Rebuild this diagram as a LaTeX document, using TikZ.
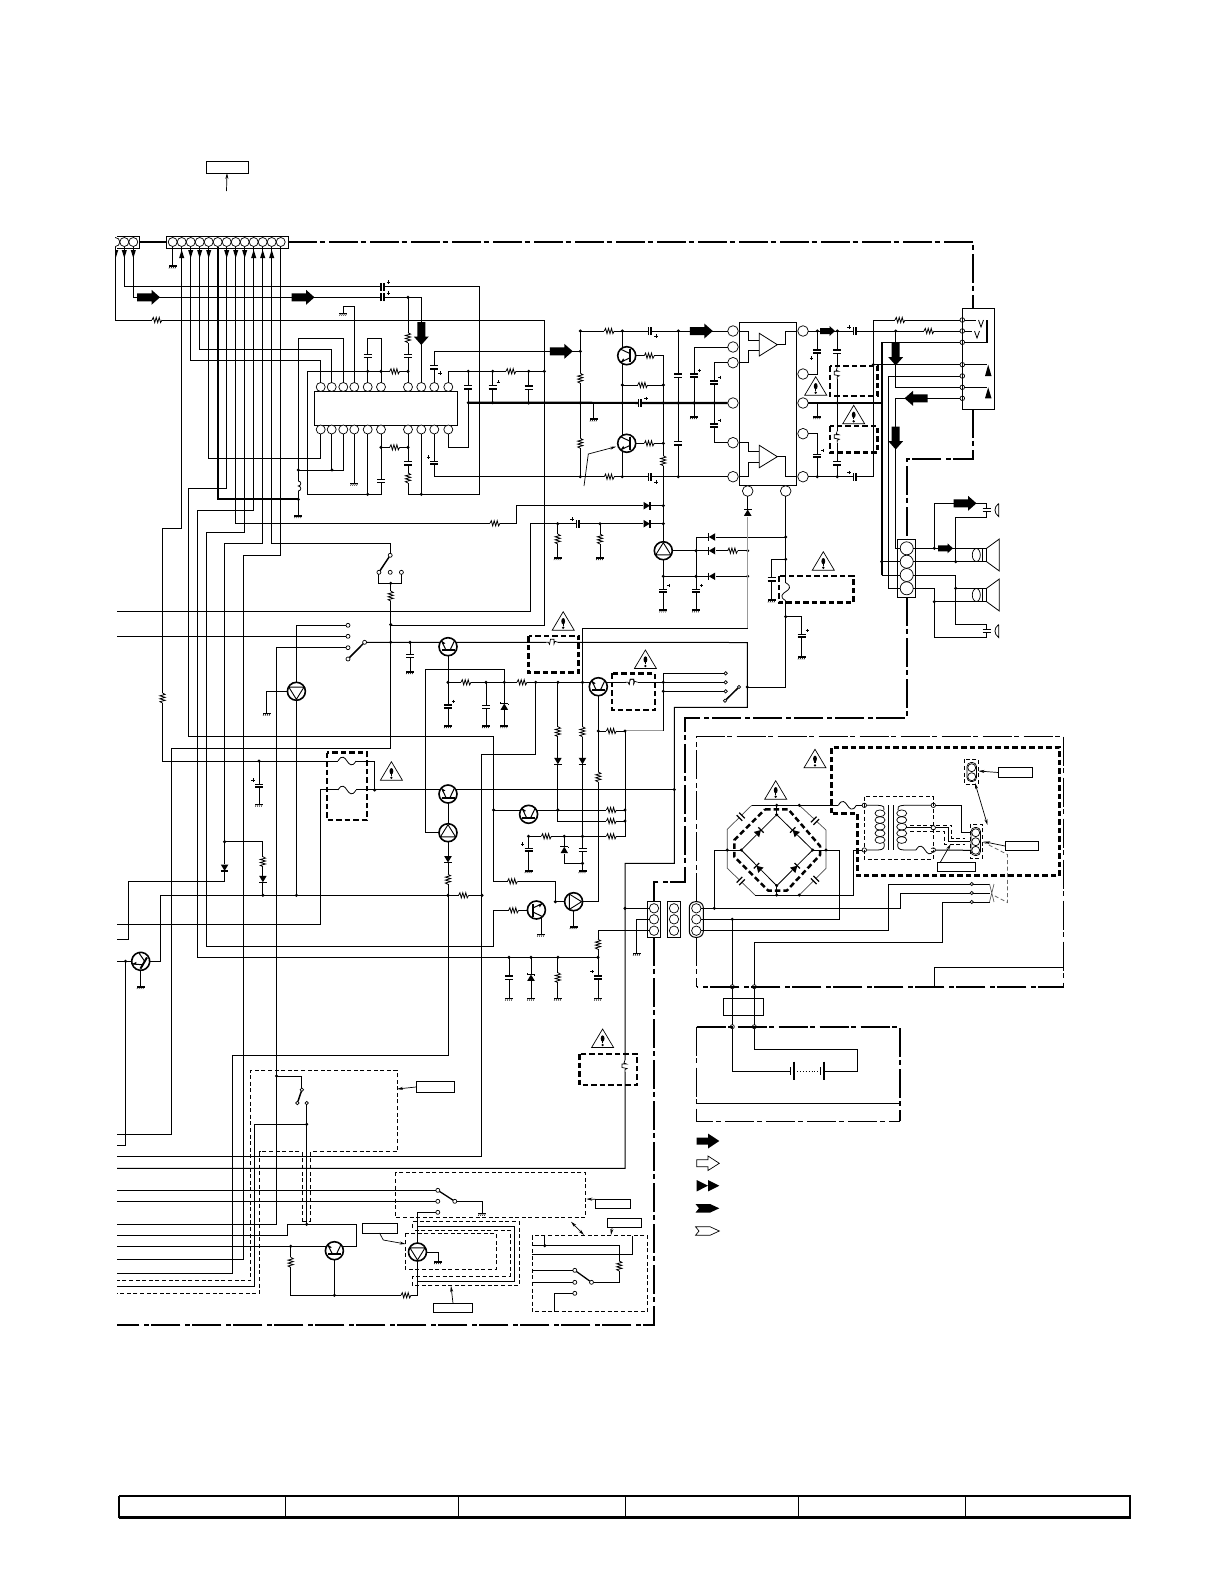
\documentclass[tikz,border=0pt]{standalone}
\usetikzlibrary{arrows.meta}
\tikzset{
  pinn/.style={circle,draw,fill=white,inner sep=0pt,minimum size=#1 pt,line width=.7pt,outer sep=0pt},
  lblbox/.style 2 args={draw,fill=white,inner sep=0pt,minimum width=#1 pt,minimum height=#2 pt,line width=.8pt,outer sep=0pt},
  ddash/.style={dash pattern=on 29pt off 2.5pt on 5pt off 4.5pt,line width=1.6pt},
  ddthin/.style={dash pattern=on 29pt off 2.5pt on 5pt off 4.5pt,line width=.9pt},
  hdash/.style={dash pattern=on 5.5pt off 3pt,line width=2.5pt},
  tdash/.style={dash pattern=on 4pt off 2.6pt,line width=.8pt},
  fatw/.style={line width=2.2pt},
  grayw/.style={line width=1.3pt,black!40},
  thinarrow/.style={line width=.7pt,-{Stealth[length=6pt,width=3pt]}},
  resh/.pic={\fill[white] (-5,-1) rectangle (5,1);
    \draw[line width=.8pt] (-5,0)--(-3.7,-2.6)--(-2.3,2.6)--(-.8,-2.6)--(.7,2.6)--(2.2,-2.6)--(3.6,2.6)--(5,0);},
  capv/.pic={\fill[white] (-4,-2) rectangle (4,2);
    \draw[line width=1.3pt] (-4,-1.8)--(4,-1.8) (-4,1.8)--(4,1.8);},
  capn/.pic={\fill[white] (-4,-2) rectangle (4,2);
    \draw[line width=1.3pt] (-4,-1.8)--(4,-1.8) (-4,1.8)--(4,1.8) (-4,.9)--(4,.9);},
  capp/.pic={\fill[white] (-4,-2) rectangle (4,2);
    \draw[line width=1.3pt] (-4,-1.8)--(4,-1.8) (-4,1.8)--(4,1.8) (-4,.9)--(4,.9);
    \draw[line width=.5pt] (4,-5.5)--(7,-5.5) (5.5,-7)--(5.5,-4);},
  diod/.pic={\fill[white] (-4,-3.5) rectangle (4,3.5);
    \fill (-3.8,-3.2)--(3.8,-3.2)--(0,3.2)--cycle;
    \draw[line width=1.2pt] (-3.8,3.2)--(3.8,3.2);},
  zen/.pic={\fill[white] (-4,-3.5) rectangle (4,3.5);
    \fill (-3.8,3.2)--(3.8,3.2)--(0,-3.2)--cycle;
    \draw[line width=1.2pt] (-3.8,-3.2)--(3.8,-3.2) (-3.8,-3.2)--(-3.8,-4.5) (3.8,-3.2)--(3.8,-1.8);},
  gndp/.pic={\fill (-4,-.8) rectangle (4,.8);
    \draw[line width=.5pt] (-3,.8)--(-3.8,2.4) (-1,.8)--(-1.8,2.4) (1,.8)--(.2,2.4) (3,.8)--(2.2,2.4);},
  qbar/.pic={\draw[fill=white,line width=1.6pt] (0,0) circle (9);
    \draw[line width=2pt] (-6.5,3.5)--(6.5,3.5);
    \draw[line width=1pt] (-2,3.5)--(-6.5,-6) (2,3.5)--(6.5,-6);
    \fill (-6.5,-6)--(-2.6,-3.4)--(-5.3,-2.3)--cycle;},
  qtri/.pic={\draw[fill=white,line width=1.6pt] (0,0) circle (9);
    \draw[line width=.9pt] (-7.6,4.2)--(7.6,4.2)--(0,-8)--cycle;},
  warnp/.pic={\draw[fill=white,line width=.7pt] (0,-10)--(-11,8.5)--(11,8.5)--cycle;
    \fill (0,-.5) ellipse (1.9 and 3.2);
    \draw[line width=1.2pt] (0,0)--(0,4);
    \fill (0,6) circle (1.3);},
  barr/.pic={\fill (-11.5,-4)--(3,-4)--(3,-7.5)--(11.5,0)--(3,7.5)--(3,4)--(-11.5,4)--cycle;},
  barrs/.pic={\fill (-7.5,-3)--(2,-3)--(2,-5)--(7.5,0)--(2,5)--(2,3)--(-7.5,3)--cycle;},
  tridn/.pic={\fill (-2.6,-4)--(2.6,-4)--(0,4)--cycle;},
  fuseh/.pic={\fill[white] (-9,-1) rectangle (9,1);
    \draw[line width=.8pt] (-9,0) .. controls (-5,-7) and (-2,-3) .. (0,0) .. controls (2,3) and (5,7) .. (9,0);},
  fuser/.pic={\fill[white] (-6,-1) rectangle (6,1);
    \draw[line width=.7pt] (-6,0)--(-3.5,0)--(-2.5,2)--(-1.5,-3)--(2,-3)--(2,1.5)--(3,-1)--(6,0);},
  twet/.pic={\fill[white] (-4,-2) rectangle (4,2);
    \draw[line width=1.5pt] (-4,-1.5)--(4,-1.5) (-4,1.5)--(4,1.5);
    \draw[line width=.8pt] (12,-6.5) .. controls (7,-3) and (7,3) .. (12,6.5) -- (12,-6.5);},
  spkr/.pic={\draw[fill=white,line width=.8pt] (0,-6.7) rectangle (4.3,6.7);
    \draw[line width=.8pt] (4.3,-6.7)--(17,-16)--(17,16)--(4.3,6.7);
    \draw[line width=.7pt] (-6,0) ellipse (4 and 6.5);}
}
\newcommand\jdots[1]{\foreach \a/\b in {#1} {\fill (\a,\b) circle (1.7);}}
\newcommand\pp[2]{\foreach \a/\b in {#2} {\pic at (\a,\b) {#1};}}
\newcommand\plusat[1]{\foreach \a/\b in {#1} {\draw[line width=.5pt] (\a-1.6,\b)--(\a+1.6,\b) (\a,\b-1.6)--(\a,\b+1.6);}}
\begin{document}
\begin{tikzpicture}[x=1pt,y=-1pt,line width=1pt]
\useasboundingbox (0,0) rectangle (1225,1585);
\fill[white] (0,0) rectangle (1225,1585);
% ---- pins --------------------------------------------------
\draw (117,236)--(139,236)--(139,248)--(117,248);
\draw (166,236) rectangle (288,248);
\node[pinn=9] (d0) at (115.3,242) {};
\node[pinn=9] (d1) at (124.3,242) {};
\node[pinn=9] (d2) at (133.3,242) {};
\foreach \i in {0,...,12} {\node[pinn=9] (c\i) at ({172.7+9*\i},242) {};}
\draw (314.3,391.3) rectangle (457.7,425.7);
\foreach \i/\x in {1/320.7,2/331.7,3/343.3,4/354.3,5/367.7,6/381,7/408,8/421.3,9/434.3,10/448.3} {
  \node[pinn=9] (t\i) at (\x,387) {};
  \node[pinn=9] (b\i) at (\x,429.5) {};}
\draw (739.3,322.3) rectangle (796.7,485.7);
\foreach \i/\y in {1/331,2/347,3/362.7,4/403,5/442.7,6/476.7} {\node[pinn=10.6] (pa\i) at (733,\y) {};}
\foreach \i/\y in {1/331,2/374,3/403,4/433.7,5/476.7} {\node[pinn=10.6] (pb\i) at (803,\y) {};}
\node[pinn=10.6] (pc1) at (747.7,491) {};
\node[pinn=10.6] (pc2) at (785.7,491) {};
\foreach \i/\y in {1/320,2/331,3/342.3,4/364.7,5/376,6/387.3,7/398.3} {\node[pinn=4.6] (j\i) at (962.3,\y) {};}
\draw (897.3,539.3) rectangle (915.7,597.3);
\foreach \i/\y in {1/548.3,2/561.7,3/575,4/588.3} {\node[pinn=13] (cc\i) at (906.7,\y) {};}
\draw (647.3,901.7) rectangle (660.7,937.3);
\draw (667.3,901.7) rectangle (680.7,937.3);
\draw[rounded corners=6pt] (689.3,901.7) rectangle (703.3,937.3);
\foreach \i/\y in {1/908.3,2/919.3,3/930.7} {
  \node[pinn=9.4] (g\i) at (654,\y) {};
  \node[pinn=9.4] (h\i) at (674,\y) {};
  \node[pinn=9.4] (i\i) at (696.3,\y) {};}
\foreach \i/\y in {1/884,2/893,3/902} {\node[pinn=3.2] (k\i) at (971.7,\y) {};}
\node[pinn=4.4] (tp1) at (864.3,805.3) {};
\node[pinn=4.4] (tp2) at (864.3,850) {};
\node[pinn=4.4] (ts1) at (933.3,805.3) {};
\node[pinn=4.4] (ts2) at (933.3,827.7) {};
\node[pinn=4.4] (ts3) at (933.3,850) {};
\node[pinn=4] (m1) at (732.3,986.7) {};
\node[pinn=4] (m2) at (754.3,986.7) {};
\node[pinn=4] (m3) at (732.3,1026.7) {};
\node[pinn=4] (m4) at (754.3,1026.7) {};
% switch pins
\node[pinn=4] (sa) at (390.2,555.3) {};
\node[pinn=4] (sb1) at (378.9,572.3) {};
\node[pinn=4] (sb2) at (390.2,572.3) {};
\node[pinn=4] (sb3) at (401.4,572.3) {};
\node[pinn=4] (se1) at (348,625.3) {};
\node[pinn=4] (se2) at (348,636.3) {};
\node[pinn=4] (se3) at (348,647.7) {};
\node[pinn=4] (se4) at (348,659) {};
\node[pinn=4] (sf) at (364.6,642.3) {};
\node[pinn=3.4] (sg1) at (725.7,673.3) {};
\node[pinn=3.4] (sg2) at (725.7,682.3) {};
\node[pinn=3.4] (sg3) at (725.7,691.3) {};
\node[pinn=3.4] (sg4) at (725,700.7) {};
\node[pinn=3.4] (sh) at (739,687) {};
\node[pinn=3.4] (su1) at (301.9,1089.7) {};
\node[pinn=3.4] (su2) at (297.4,1103) {};
\node[pinn=3.4] (su3) at (306.7,1103) {};
\node[pinn=4] (sv1) at (437.8,1190.3) {};
\node[pinn=4] (sv2) at (437.8,1201.3) {};
\node[pinn=4] (sv3) at (437.8,1212.3) {};
\node[pinn=4] (sw) at (454.8,1201.3) {};
\node[pinn=4] (sx1) at (574.8,1270.3) {};
\node[pinn=4] (sx2) at (574.8,1282.3) {};
\node[pinn=4] (sx3) at (574.8,1293.3) {};
\node[pinn=4] (sy) at (591.5,1282.3) {};
% ---- label boxes -------------------------------------------
\node[lblbox={42}{12}] (lt) at (227,167) {};
\node[lblbox={38}{11.5}] (la) at (435,1087) {};
\node[lblbox={35}{9.5}] (lb) at (612.8,1204) {};
\node[lblbox={34.5}{9.5}] (lc) at (624.3,1223) {};
\node[lblbox={35}{10}] (ld) at (379.5,1228) {};
\node[lblbox={38.5}{9.5}] (le) at (453,1308) {};
\node[lblbox={34.5}{10.5}] (lf) at (1015.5,772.5) {};
\node[lblbox={33.3}{9.5}] (lg) at (1021.7,846) {};
\node[lblbox={38.4}{9.5}] (lh) at (956.5,867) {};
\coordinate (ltf) at (226.5,191);
\draw[thinarrow] (ltf)--(lt.south);
\draw[thinarrow] (la.west)--(397,1089);
\draw[thinarrow] (lb.north west)--(586.3,1199);
\draw[thinarrow] (lc.south west)++(5,0)--(611,1235);
\draw[thinarrow] (ld.south)--(383.3,1240)--(405.5,1244);
\draw[thinarrow] (le.north)--(451,1286);
\draw[thinarrow] (lf.west)--(978.5,771);
\draw[thinarrow] (lg.west)--(984,841.7);
\draw[thinarrow] (lh.north west)++(3,0)--(950.7,844);
\draw[line width=.7pt,{Stealth[length=6pt,width=3pt]}-{Stealth[length=6pt,width=3pt]}] (975,783)--(987.5,825);
\draw[line width=.7pt,{Stealth[length=6pt,width=3pt]}-{Stealth[length=6pt,width=3pt]}] (571,1221.7)--(584,1235);
% ---- dash-dot frames ----------------------------------------
\draw[ddash] (139,242)--(166,242);
\draw[ddash] (288,242)--(973,242)--(973,308);
\draw[ddash] (973,409)--(973,459)--(907,459)--(907,539.3);
\draw[ddash] (907,597.3)--(907,718)--(685,718)--(685,881.7)--(654,881.7)--(654,901.7);
\draw[ddash] (654,937.3)--(654,1324.7)--(117,1324.7);
\draw[ddthin] (696.7,901.7)--(696.7,736.7)--(1063.3,736.7);
\draw[ddthin] (696.7,937.3)--(696.7,986.7);
\draw[ddash] (1063.3,736.7)--(1063.3,986.7)--(696.7,986.7);
\draw (934.3,986.7)--(934.3,967.3)--(1063.3,967.3);
\draw[ddash] (696.7,1026.7)--(900,1026.7)--(900,1121);
\draw[ddthin] (696.7,1026.7)--(696.7,1121)--(900,1121);
\draw (696.7,1103.3)--(900,1103.3);
% ---- wiring from top connector -------------------------------
\draw (d1.south)|-(479.7,286.5)--(479.7,494.3)--(408,494.3)--(b7.south);
\draw (d2.south)|-(421.3,297.3)--(t8.north);
\draw (115.7,247)--(115.7,320)--(544.3,320)--(544.3,625)--(390.7,625);
\draw (c0.south)--(172.7,266);
\draw (c1.south)--(181.7,528)--(162.5,528)--(162.5,761)--(374.6,761)--(374.6,790);
\draw (c2.south)|-(320.7,360.3)--(t1.north);
\draw (c3.south)|-(331.7,349.7)--(t2.north);
\draw (c4.south)|-(320.7,458.3)--(b1.south);
\draw[line width=1.8pt] (c5.south)|-(298.3,499.3);
\draw (298.3,338.3)--(298.3,515.7);
\draw (298.3,338.3)-|(t3.north);
\draw (298.3,470)-|(b3.south);
\draw (331.7,470)--(b2.south);
\draw (c6.south)|-(188.6,488.3)--(188.6,736.3)--(493.6,736.3)--(493.6,881.3)--(555.4,881.3)--(555.4,901.7);
\draw (c7.south)|-(516.7,523.3)--(516.7,505.7)--(663.3,505.7);
\draw (c8.south)|-(206.8,532.3)--(206.8,946.3)--(493.6,946.3)--(493.6,910.3)--(530,910.3);
\draw (c9.south)|-(197.5,510.3)--(197.5,957.3)--(598,957.3);
\draw (c10.south)|-(224.6,543.3)--(224.6,881.3)--(128.2,881.3)--(128.2,939)--(117,939);
\draw (c11.south)|-(390.2,543.3)--(sa.north);
\draw (c12.south)--(280.7,555.3)--(243.6,555.3)--(243.6,1259)--(117,1259);
% ---- IC1 surround ---------------------------------------------
\draw (b4.south)--(354.3,483.3);
\draw (t4.north)--(354.3,306)--(343.3,306)--(343.3,313.3);
\draw (b5.south)--(367.7,494.3);
\draw (t5.north)--(367.7,371.3);
\draw (307.3,371.3)--(307.3,494.3)--(381,494.3)--(b6.south);
\draw (307.3,371.3)--(408,371.3);
\draw (367.7,371.3)--(367.7,338.3)--(381,338.3)--(t6.north);
\draw (t7.north)--(408,297.3);
\draw (381,447.3)--(408,447.3);
\draw (b8.south)--(421.3,494.3);
\draw (t9.north)|-(580.3,351.3);
\draw (b9.south)|-(pa6.west);
\draw (t10.north)|-(544.3,371.3);
\draw (b10.south)|-(468.3,447)--(468.3,371.3);
\draw (492.7,371.3)--(492.7,402.7);
\draw (528.7,371.3)--(528.7,403);
\draw[fatw] (468.3,402.7)--(pa4.west);
\draw[fatw] (pb3.east)--(882.7,403);
\pp{resh}{157/320,511/371.3,394.7/371.3,394.7/447.3,495/523.3}
\pp{capv}{468.3/387.3,367.7/356,408/356,408/463.3,381/481,528.7/387.7}
\pp{capp}{492.7/387.3}
\pp{capn}{434.3/367.3,434.3/463}
\plusat{440/373,428.5/457,388.5/282,388.5/293}
\pic[rotate=90] at (382.7,286.5) {capn};
\pic[rotate=90] at (382.7,297.3) {capn};
\pic[rotate=90] at (408,337.7) {resh};
\pic[rotate=90] at (408,478) {resh};
\fill[white] (296,481) rectangle (300.6,491);
\draw[line width=.8pt] (298.3,481) arc (-90:90:2.5) arc (-90:90:2.5);
\jdots{408/297.3,298.3/470,332/470,298.3/499.3,367.7/371.3,381/371.3,408/371.3,381/447.3,408/447.3,421.3/494.3,367.7/494.3,468.3/371.3,492.7/371.3,468.3/402.7,492.7/402.7,528.7/371.3,544.3/371.3,528.7/403}
\pp{gndp}{172.7/266,298.3/515.7,354.3/483.3,343.3/313.3}
% ---- preamp left of IC2 ----------------------------------------
\draw (580.3,331)--(pa1.west);
\draw (580.3,331)--(580.3,476.7);
\draw (622.3,331)--(622.3,476.7);
\draw (622.3,385)--(663.3,385);
\draw (632,355.7)--(663.3,355.7)--(663.3,545);
\draw (632,443.3)--(663.3,443.3);
\draw (593.7,403)--(593.7,419);
\draw (678.3,331)--(678.3,476.7);
\draw (pa2.west)-|(694,416.7);
\draw (pa3.west)-|(714.3,442.7)--(pa5.west);
\draw (530.5,611.3)--(117,611.3);
\draw (530.5,611.3)--(530.5,523.7)--(663.3,523.7);
\draw (557.7,523.7)--(557.7,557.7);
\draw (600,523.7)--(600,557.7);
\draw (672,550.7)--(747.7,550.7);
\draw (696,537)--(696,610);
\draw (696,537)--(785.7,537);
\draw (663.3,556)--(663.3,610);
\draw (663.3,576.3)--(747.7,576.3);
\pp{resh}{609.3/331,609.3/476.7,642.7/385,649.3/355.7,649.3/443.3,732.7/550.7}
\pic[rotate=90] at (580.3,378.3) {resh};
\pic[rotate=90] at (580.3,443.3) {resh};
\pic[rotate=90] at (663.3,460.7) {resh};
\pic[rotate=90] at (557.7,539) {resh};
\pic[rotate=90] at (600,539) {resh};
\pp{capv}{678.3/375.7,678.3/443.3}
\pp{capp}{694/375.7,714.3/382.7,714.3/425.7,663.3/591,696/591}
\foreach \x/\y in {650/331,650/476.7,578/523.7,640/403} {\pic[rotate=90] at (\x,\y) {capn};}
\plusat{656/336,656/482,572/519,646/398.5}
\foreach \y in {505.7,523.7} {\pic[rotate=90] at (646.7,\y) {diod};}
\foreach \y in {537,550.7,576.3} {\pic[rotate=-90] at (712,\y) {diod};}
\pic[rotate=180] at (747.7,512.7) {diod};
\jdots{580.3/331,622.3/331,678.3/331,580.3/351.3,580.3/476.7,622.3/476.7,678.3/476.7,580.3/403,622.3/403,663.3/403,678.3/403,694/403,714.3/403,622.3/385,663.3/385,663.3/443.3,663.3/505.7,663.3/523.7,557.7/523.7,600/523.7,663.3/576.3,696/550.7,696/576.3,747.7/550.7,747.7/576.3,785.7/537}
\pp{gndp}{593.7/419,694/416.7,557.7/557.7,600/557.7,663.3/610,696/610}
\draw[thinarrow] (584,486)--(588.3,454)--(616,446.7);
% ---- IC2 internals ---------------------------------------------
\draw[line width=.8pt] (759.3,333.3)--(777.3,344.7)--(759.3,356)--cycle;
\draw[line width=.8pt] (759.3,445.3)--(777.3,456.7)--(759.3,467.7)--cycle;
\draw (739.3,331)--(748.3,331)--(748.3,340)--(759.3,340);
\draw (739.3,362.7)--(748.3,362.7)--(748.3,350.7)--(759.3,350.7);
\draw (777.3,344.7)--(785.7,344.7)--(785.7,331)--(796.7,331);
\draw (739.3,442.7)--(748.3,442.7)--(748.3,451.7)--(759.3,451.7);
\draw (739.3,476.7)--(748.3,476.7)--(748.3,462.3)--(759.3,462.3);
\draw (777.3,456.7)--(785.7,456.7)--(785.7,476.7)--(796.7,476.7);
% ---- output side ------------------------------------------------
\draw (pb1.east)--(j2.west);
\draw (pb2.east)-|(817.3,331);
\draw (837.3,331)--(837.3,476.7);
\draw (817.3,403)--(817.3,416.7);
\draw (pb4.east)-|(817.3,476.7);
\draw (pb5.east)--(873.3,476.7)--(873.3,320)--(j1.west);
\draw (962.3,320)--(962.3,398.3);
\draw[fatw] (881.7,342.3)--(881.7,575);
\draw (j3.west)--(881.7,342.3);
\draw (881.7,575)--(cc3.west);
\draw (j4.west)--(873.3,364.7);
\draw (j5.west)--(888.3,376)--(888.3,588.3)--(cc4.west);
\draw (j6.west)--(895.7,387.3)--(895.7,331);
\draw (j7.west)--(895.7,398.3)--(895.7,548.3)--(cc1.west);
\draw (881.7,561.7)--(cc2.west);
\pp{capv}{837.3/351.7,837.3/463.3}
\pp{capn}{817.3/351.7}
\pp{capp}{817.3/456}
\plusat{811.5/358,849/327,849/472.5}
\foreach \x/\y in {855/331,855/476.7} {\pic[rotate=90] at (\x,\y) {capn};}
\pp{resh}{929/331,900/320}
\pic[rotate=90] at (837.3,373.3) {fuser};
\pic[rotate=90] at (837.3,436.7) {fuser};
\jdots{817.3/331,837.3/331,895.7/331,817.3/476.7,837.3/476.7,837.3/403,873.3/364.7,881.7/561.7}
\pp{gndp}{817.3/416.7}
\draw[hdash] (830,366) rectangle (877.3,396);
\draw[hdash] (830,426) rectangle (877.3,452.7);
% jack
\draw (962.3,308) rectangle (994,409);
\draw (j3.east)--(987,342.3);
\draw[line width=2pt] (987,320)--(987,343);
\draw (j1.east)--(976,320);
\draw (j2.east)--(972,331);
\draw[line width=.8pt] (978.5,320)--(981,327)--(983.5,320) (974.5,331)--(977,338)--(979.5,331);
\draw (j4.east)--(987,364.7);
\draw (j6.east)--(987,387.3);
\fill (985,376)--(991.5,376)--(988.2,364.7)--cycle;
\fill (985,398.3)--(991.5,398.3)--(988.2,387.3)--cycle;
% speakers
\draw (cc1.east)--(982,548.3);
\draw (934.3,548.3)--(934.3,503.3)--(986.7,503.3)--(986.7,510);
\draw (cc2.east)--(982,561.7);
\draw (955.7,561.7)--(955.7,517.3)--(986.7,517.3)--(986.7,510);
\draw (cc3.east)--(955.7,575)--(955.7,624.3)--(986.7,624.3)--(986.7,631);
\draw (955.7,588.3)--(982,588.3);
\draw (cc4.east)--(934.3,588.3)--(934.3,637.3)--(986.7,637.3)--(986.7,631);
\draw (934.3,601.7)--(982,601.7);
\pic at (982.3,555) {spkr};
\pic at (982.3,595) {spkr};
\pic at (986.7,510) {twet};
\pic at (986.7,631) {twet};
\jdots{934.3/548.3,955.7/561.7,955.7/588.3,934.3/601.7}
% rails around fuse
\draw (pc2.south)--(785.7,687)--(747.3,687);
\draw (785.7,559.3)--(771.7,559.3)--(771.7,600);
\draw (785.7,616.7)--(801.7,616.7)--(801.7,657);
\pp{capv}{771.7/579.3}
\pic at (801.7,636) {capp};
\pp{gndp}{771.7/600,801.7/657}
\pic[rotate=90] at (785.7,591.7) {fuseh};
\jdots{785.7/559.3,785.7/616.7,747.3/687}
\draw[hdash] (779,576) rectangle (853.3,602.7);
% big arrows
\pp{barr}{148.5/297.3,303/297.3,561.3/351.3,701.3/331}
\pic[rotate=-90] at (421.3,333.5) {barr};
\pic[rotate=-90] at (895.7,354) {barr};
\pic[rotate=180] at (916,398.3) {barr};
\pic[rotate=-90] at (895.7,438) {barr};
\pic at (965,503.3) {barr};
\pp{barrs}{827.5/331,945.5/548.3}
% small triangles at connector
\pp{tridn}{124.3/254,133.3/254,115.7/254,190.7/254,199.7/254,208.7/254,226.7/254,235.7/254,244.7/254}
\foreach \x in {181.7,253.7,262.7,271.7} {\pic[rotate=180] at (\x,254) {tridn};}
% ---- middle section ----------------------------------------------
\draw[line width=1.5pt] (sa)--(sb1);
\draw (sb1.south)--(378.9,583.3)--(401.4,583.3)--(sb3.south);
\draw (390.7,583.3)--(390.7,748.7)--(171.7,748.7)--(171.7,1134.3)--(117,1134.3);
\pic[rotate=90] at (390.7,596) {resh};
\draw (117,636.3)--(se2.west);
\draw (se1.west)--(296.4,625.3)--(296.4,895.3);
\draw (se3.west)--(276.5,647.7)--(276.5,1224.3)--(117,1224.3);
\draw[line width=1.5pt] (sf)--(se4);
\draw (sf.east)--(747.3,642.5)--(747.3,707.3)--(674.3,707.3)--(674.3,863.3)--(625,863.3)--(625,1168.3)--(117,1168.3);
\draw (287,691.3)--(266.8,691.3)--(266.8,713.3);
\draw (410,642.3)--(410,671.7);
\draw (448,646)--(448,725.7);
\draw (448,682.3)--(598,682.3);
\draw (486,682.3)--(486,725.7);
\draw (504.3,669.3)--(504.3,725.7);
\draw (504.3,669.3)--(425.7,669.3)--(425.7,832.7)--(439,832.7);
\draw (535.7,682.3)--(535.7,754.3)--(481.8,754.3)--(481.8,1156.3)--(117,1156.3);
\draw (557.9,682.3)--(557.9,821)--(625,821);
\draw (582.5,628.3)--(582.5,863.3);
\draw (582.5,628.3)--(747.7,628.3);
\draw[grayw] (747.7,628.3)--(747.7,517);
\draw (pc1.south)--(747.7,509);
\draw (598.3,695)--(598.3,901.7)--(582,901.7);
\draw (598.3,731)--(625,731);
\draw[grayw] (625,730.7)--(663.3,730.7);
\draw (625,731)--(625,836.3)--(528.6,836.3);
\draw (493.6,810)--(625,810);
\draw (528.6,836.3)--(528.6,870.7);
\draw (564.3,836.3)--(564.3,863.3)--(582.5,863.3);
\draw (582.5,863.3)--(582.5,870.7);
\draw (448,803)--(448,1055.3)--(232.6,1055.3)--(232.6,1273.3)--(117,1273.3);
\draw (320.7,924.3)--(117,924.3);
\draw (320.7,924.3)--(320.7,789.3)--(674.3,789.3);
\draw (259,761)--(259,804.3);
\draw (224.6,841.7)--(262.9,841.7)--(262.9,895.3);
\draw (160.7,895.3)--(482,895.3);
\draw (160.7,895.3)--(160.7,961.3)--(149,961.3);
\draw (117,961.3)--(132,961.3);
\draw (125.6,961.3)--(125.6,1145.3)--(117,1145.3);
\draw (140.7,970)--(140.7,986.7);
\draw (555.4,901.7)--(565,901.7);
\draw (541,917)--(541,934.3);
\draw (573.6,910)--(573.6,926.7);
\draw (g1.west)--(625,908.3);
\draw (g2.west)--(636.8,919.3)--(636.8,953.3);
\draw (g3.west)--(598,930.7)--(598,998.3);
\draw (509,957.3)--(509,998.3);
\draw (531,957.3)--(531,998.3);
\draw (557.9,957.3)--(557.9,998.3);
\pic[rotate=90] at (598,944.3) {resh};
\pic[rotate=90] at (557.9,977.7) {resh};
\pp{capv}{410/656,486/707,509/977.7,582.5/850}
\pp{capp}{448/706.7}
\pp{capn}{259/786,528.6/850,598/977.7}
\plusat{253/780,522.6/844,592/971.7}
\pp{zen}{504.3/706.7,564.3/850,531/977.7}
\pp{diod}{224.6/867.7,262.9/879,448/859.3,557.9/761,582.5/761}
\foreach \x/\y in {466/682.3,522/682.3,611.4/731,611.4/810,611.4/821,611.4/836.3,546.4/836.3,463.6/895.3,512.5/881.3,513.6/910.3} {\pic at (\x,\y) {resh};}
\foreach \x/\y in {162.5/698,557.9/731.7,582.5/731.7,598.3/777,262.9/861.7,448/879.3} {\pic[rotate=90] at (\x,\y) {resh};}
\pic at (347,761) {fuseh};
\pic at (347,790) {fuseh};
\draw[hdash] (327,752.7) rectangle (367,820);
\draw[hdash] (528.6,636) rectangle (578.6,672.7);
\draw[hdash] (612,673.3) rectangle (655,710);
\pic at (552,642.3) {fuser};
\pic at (631.7,682.3) {fuser};
\draw (598.3,682.3)--(sg2.west);
\pic at (631.7,682.3) {fuser};
\draw (663.3,691.3)--(sg3.west);
\draw (663.3,730.7)--(663.3,673.3)--(sg1.west);
\draw[line width=1.5pt] (sh)--(sg4);
\jdots{663.3/682.3,663.3/691.3,625/731,598.3/731,674.3/789.5,390.7/583.3,390.7/624.6,390.7/642.3,410/642.3,448/682.3,486/682.3,504.3/682.3,535.7/682.3,557.9/682.3,582.5/682.3,374.6/790,259/761,224.6/841.7,262.9/895.3,296.4/895.3,448/895.3,482/895.3,125.6/961.3,493.6/810,557.9/810,625/810,625/821,528.6/836.3,564.3/836.3,582.5/836.3,582.5/863.3,555.4/901.7,625/908.3,509/957.3,531/957.3,557.9/957.3,598/957.3}
\pp{gndp}{266.8/713.3,410/671.7,448/725.7,486/725.7,504.3/725.7,259/804.3,140.7/986.7,528.6/870.7,582.5/870.7,541/934.3,573.6/926.7,636.8/953.3,509/998.3,531/998.3,557.9/998.3,598/998.3}
\pic at (448,646.7) {qbar};
\pic at (598.3,686.7) {qbar};
\pic at (448,794) {qbar};
\pic at (528.6,814.3) {qbar};
\pic[rotate=90] at (626.7,355.7) {qbar};
\pic[rotate=90] at (626.7,443.3) {qbar};
\pic[rotate=-90] at (536.4,910) {qbar};
\pic[rotate=60] at (140.7,961.3) {qbar};
\pic at (663.3,550.7) {qtri};
\pic at (448,832.7) {qtri};
\pic[rotate=180] at (296.4,691.3) {qtri};
\pic[rotate=-90] at (573.6,901.7) {qtri};
% warnings
\pp{warnp}{563.2/621.7,645.4/660,815.7/386.7,853.7/415.3,823.3/561.7,391.4/771.7,815/759.3,775.7/790.7,602.6/1039}
\draw[hdash] (579.6,1054) rectangle (637,1085);
\pic[rotate=90] at (625,1066) {fuser};
% ---- lower-left switch groups -------------------------------------
\draw[tdash] (310.7,1221.7)--(310.7,1151.7)--(397,1151.7)--(397,1070)--(250.7,1070)--(250.7,1280.7)--(117,1280.7);
\draw[tdash] (301.9,1221.7)--(301.9,1151.7)--(259.6,1151.7)--(259.6,1293.3)--(117,1293.3);
\draw[tdash] (301.9,1221.7)--(310.7,1221.7);
\draw (276.5,1076)-|(su1.north);
\draw[line width=1.5pt] (su1)--(su2);
\draw (su3.south)--(306.7,1224.3);
\draw (306.7,1124.3)--(254.4,1124.3)--(254.4,1286.3)--(117,1286.3);
\draw (117,1235.3)--(287,1235.3)--(287,1224.3)--(356.7,1224.3)--(356.7,1246.3)--(343,1246.3);
\draw (117,1246.3)--(326,1246.3);
\draw (290.7,1246.3)--(290.7,1295.3)--(417.8,1295.3)--(417.8,1212.3)--(sv3.west);
\draw (334.4,1258)--(334.4,1295.3);
\pic at (334.4,1250.7) {qbar};
\pic[rotate=90] at (290.7,1262.3) {resh};
\pic at (406,1295.3) {resh};
\jdots{276.5/1076,306.7/1124.3,306.7/1224.3,290.7/1246.3,334.4/1295.3}
\draw (117,1190.3)--(sv1.west);
\draw (117,1201.3)--(sv2.west);
\draw (sw.east)--(482.2,1201.3)--(482.2,1213.3);
\draw[line width=1.3pt] (sv1)--(sw);
\draw (426,1252)--(438,1252)--(438,1261.7);
\pp{gndp}{482.2/1213.3,438/1261.7}
\draw[tdash] (395.2,1172.3) rectangle (585.2,1217.3);
\draw[tdash] (412.6,1228)--(412.6,1221.7)--(519.3,1221.7)--(519.3,1285.7)--(412.6,1285.7)--(412.6,1276)--(510,1276)--(510,1230)--(412.6,1230);
\draw (417.8,1226.7)--(514.8,1226.7)--(514.8,1281)--(417.8,1281);
\draw[tdash] (405.2,1233.3) rectangle (496.3,1269.3);
\pic[rotate=180] at (417.5,1252) {qtri};
\draw[tdash] (531.9,1235.7) rectangle (647.4,1311.7);
\draw (531.9,1245.7)--(619.3,1245.7)--(619.3,1282.3)--(sy.east);
\draw (544.8,1235.7)--(544.8,1245.7);
\draw (531.9,1254.3)--(632.6,1254.3)--(632.6,1235.7);
\draw (531.9,1270.3)--(sx1.west);
\draw (531.9,1282.3)--(sx2.west);
\draw (sx3.west)--(554,1293.3)--(554,1311.7);
\draw[line width=1.3pt] (sy)--(sx1);
\pic[rotate=90] at (619.3,1266) {resh};
\jdots{544.8/1245.7}
% ---- power section --------------------------------------------------
\draw[hdash] (831.7,813.3)--(831.7,747.3)--(1059.3,747.3)--(1059.3,875.7)--(857.3,875.7)--(857.3,813.3)--cycle;
\draw[line width=.7pt,black!70] (751.7,805.3)--(727.3,829.3)--(727.3,868.3)--(755,895);
\draw[line width=.7pt,black!70] (799.3,895)--(826,868.3)--(826,830)--(799.3,805.3);
\draw (751.7,805.3)--(tp1.west);
\draw (755,895)--(853.3,895)--(853.3,850)--(tp2.west);
\draw[line width=.8pt] (776.7,814.7)--(812.7,850)--(776.7,885.7)--(741.3,850)--cycle;
\draw (776.7,805.3)--(776.7,814.7) (776.7,885.7)--(776.7,895);
\draw (714.3,908.3)--(714.3,850)--(741.3,850);
\draw (812.7,850)--(839.3,850)--(839.3,919.3)--(i2.east);
\draw (i1.east)--(900.3,908.3)--(900.3,893)--(k2.west);
\draw (i3.east)--(888.3,930.7)--(888.3,884)--(k1.west);
\draw (732.3,919.3)--(m1.north);
\draw (m2.north)--(754.3,942.3)--(942.7,942.3)--(942.7,902)--(k3.west);
\draw[hdash,line join=round] (765,809.3)--(788.3,809.3)--(820,846)--(820,855)--(786.7,890.7)--(768.3,890.7)--(734.3,856.7)--(734.3,840)--cycle;
\pic at (847.3,805.3) {fuseh};
\pic[rotate=-45] at (740.7,816.7) {capv};
\pic[rotate=45] at (815,820.7) {capv};
\pic[rotate=45] at (740.7,881) {capv};
\pic[rotate=-45] at (815,880) {capv};
\pic[rotate=135] at (758.7,832.3) {diod};
\pic[rotate=-135] at (795,832.3) {diod};
\pic[rotate=-135] at (758.7,868) {diod};
\pic[rotate=135] at (795,868) {diod};
\jdots{776.7/805.3,799.3/805.3,776.7/814.7,741.3/850,727.3/850,812.7/850,826/850,776.7/885.7,776.7/895,799.3/895,714.3/908.3,732.3/919.3}
% transformer
\draw[tdash] (864.3,796.7) rectangle (933.3,859.3);
\draw[line width=.7pt] (888.3,805.3)--(888.3,850) (893.3,805.3)--(893.3,850);
\foreach \y in {813.3,820,826.7,833.3,840} {\draw[line width=.7pt] (880,\y) ellipse (5 and 3.4);
  \draw[line width=.7pt] (901.7,\y) ellipse (5 and 3.4);}
\draw[line width=.8pt] (tp1.east)--(878,805.3) .. controls (884,805.3) and (885,808) .. (884,810);
\draw[line width=.8pt] (tp2.east)--(878,850) .. controls (884,850) and (885,847) .. (884,843);
\draw[line width=.8pt] (ts1.west)--(904,805.3) .. controls (898,805.3) and (897,808) .. (898,810);
\draw[line width=.8pt] (ts3.west)--(904,850) .. controls (898,850) and (897,847) .. (898,843);
\draw[line width=.8pt] (ts2.west)--(906,827.7);
\pic at (925,850) {fuseh};
\draw (ts1.east)--(961.7,805.3)--(961.7,832.7)--(970,832.7);
\draw (ts2.east)--(948.3,827.7)--(948.3,841.7)--(970,841.7);
\draw (ts3.east)--(970,850.3);
\draw[tdash] (910,825)--(951.7,825)--(951.7,838.3)--(965,838.3);
\draw[tdash] (910,831)--(944,831)--(944,844.3)--(965,844.3);
% small connectors
\draw[tdash] (970,824) rectangle (982.3,858.3);
\draw[line width=.7pt,rounded corners=4pt] (971,827.5) rectangle (980.5,855.5);
\foreach \i/\y in {1/832.7,2/841.7,3/850.3} {\node[pinn=8] (n\i) at (975.7,\y) {};}
\draw[tdash] (964.3,759.3) rectangle (978.3,784.3);
\draw[line width=.7pt,rounded corners=4pt] (967,762.5) rectangle (976.5,781.5);
\node[pinn=8] (o1) at (971.7,767.7) {};
\node[pinn=8] (o2) at (971.7,776.7) {};
% remote switch X with gray dashes
\draw (k1.east)--(990,884);
\draw (k2.east)--(990,893);
\draw (k3.east)--(990,902);
\draw[line width=.6pt,black!70] (989.5,884)--(994,902) (994,884)--(989.5,902);
\draw[tdash,black!60] (983,842)--(1007.5,854.5)--(1007.5,902.5)--(993,895);
% pins between boards
\draw (i1.east)--(714.3,908.3);
\draw (m1.south)--(m3.north);
\draw (m2.south)--(m4.north);
\node[draw,inner sep=0pt,minimum width=40pt,minimum height=17pt,line width=.8pt] (lk) at (743.3,1006.8) {};
\draw (m3.south)--(732.3,1071)--(790,1071);
\draw (m4.south)--(754.3,1049.3)--(857.3,1049.3)--(857.3,1071)--(824,1071);
\draw (790,1067)--(790,1075);
\draw[line width=1.5pt] (794,1061.7)--(794,1080);
\draw[line width=.9pt,dotted] (797,1071)--(819,1071);
\draw (820,1067)--(820,1075);
\draw[line width=1.5pt] (824,1061.7)--(824,1080);
% legend
\fill (696.7,1137.5)--(708,1137.5)--(708,1133.5)--(719.3,1141)--(708,1148.5)--(708,1144.5)--(696.7,1144.5)--cycle;
\draw[line width=.7pt,fill=white] (696.7,1159.8)--(708,1159.8)--(708,1156)--(719.3,1163.3)--(708,1170.5)--(708,1166.8)--(696.7,1166.8)--cycle;
\fill (696.7,1180)--(708,1185.7)--(696.7,1191.4)--cycle;
\fill (708,1180)--(719.3,1185.7)--(708,1191.4)--cycle;
\fill (695.5,1204)--(710,1204)--(719.3,1208.3)--(710,1212.6)--(695.5,1212.6)--(699,1208.3)--cycle;
\draw[line width=.7pt,fill=white] (695.5,1226.7)--(710,1226.7)--(719.3,1231)--(710,1235.3)--(695.5,1235.3)--(699,1231)--cycle;
% table at the bottom
\draw[line width=1.2pt] (119,1496)--(1131,1496);
\draw[line width=1.2pt] (119,1496)--(119,1518);
\draw[line width=2pt] (1130,1496)--(1130,1518);
\draw[line width=3pt] (119,1517)--(1131,1517);
\foreach \x in {285,458,625,965.4} {\draw[line width=.6pt] (\x,1496)--(\x,1516);}
\draw[line width=1pt] (798,1496)--(798,1516);
% mask left of the clipping edge
\fill[white] (0,230) rectangle (115,1340);
\end{tikzpicture}
\end{document}
